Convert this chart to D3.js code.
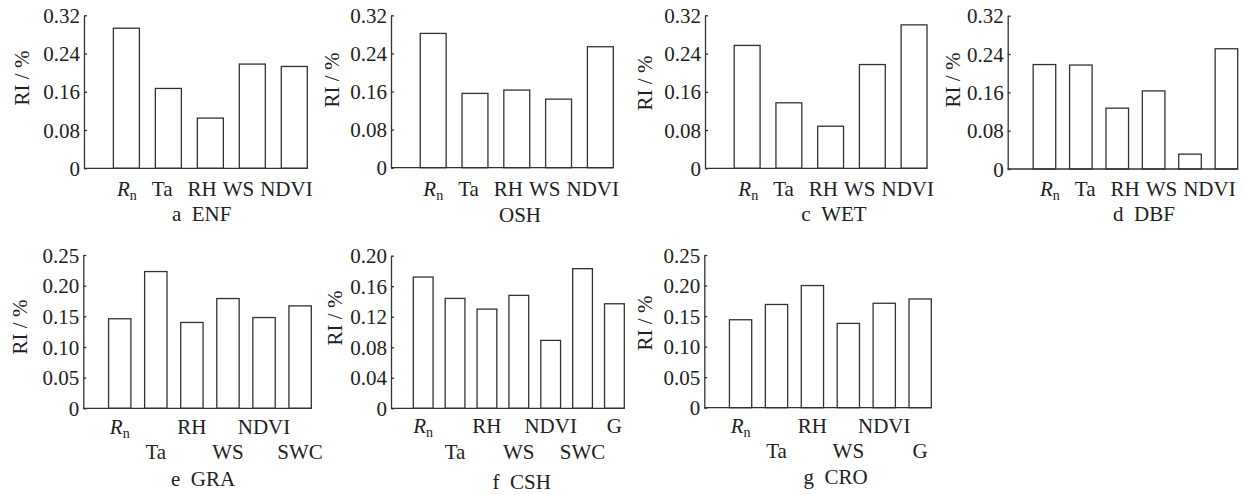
<!DOCTYPE html>
<html>
<head>
<meta charset="utf-8">
<script src="https://cdn.jsdelivr.net/npm/d3@7"></script>
<style>
  body { margin: 0; background: #fff; }
  svg { display: block; }
  text { font-family: "Liberation Serif", "Times New Roman", serif; fill: #222; }
</style>
</head>
<body>
<div class="content"></div>
<script>
// Data (relative importance, RI / %)
var topLabels = ["Rn", "Ta", "RH", "WS", "NDVI"];
var enfValues = [0.293, 0.167, 0.105, 0.218, 0.213];
var oshValues = [0.282, 0.156, 0.163, 0.144, 0.254];
var wetValues = [0.257, 0.137, 0.088, 0.217, 0.300];
// DBF has six bars but only five labels in the original
var dbfValues = [0.218, 0.217, 0.127, 0.163, 0.031, 0.251];

var graCats = ["Rn", "Ta", "RH", "WS", "NDVI", "SWC"];
var graValues = [0.146, 0.223, 0.140, 0.179, 0.148, 0.167];
var cshCats = ["Rn", "Ta", "RH", "WS", "NDVI", "SWC", "G"];
var cshValues = [0.172, 0.144, 0.130, 0.148, 0.089, 0.183, 0.137];
var croCats = ["Rn", "Ta", "RH", "WS", "NDVI", "G"];
var croValues = [0.144, 0.169, 0.200, 0.138, 0.171, 0.178];

var ticks32 = [0, 0.08, 0.16, 0.24, 0.32];
var ticks25 = [0, 0.05, 0.10, 0.15, 0.20, 0.25];
var ticks20 = [0, 0.04, 0.08, 0.12, 0.16, 0.20];

var svgWidth = 1244;
var svgHeight = 494;

var svg = d3.select(".content")
  .append("svg")
  .attr("width", svgWidth)
  .attr("height", svgHeight);

var lineColor = "#333";
var fontSize = 21;

// panel layout
var panels = [
  { values: enfValues, labels: topLabels, ticks: ticks32, ax: 84, w: 223.3, y0: 168.3, y1: 15.3,
    labelX: 117, labelY: 196, title: "a\u2002ENF", titleX: 201.7, titleY: 220.5, ylx: 22, yly: 78 },
  { values: oshValues, labels: topLabels, ticks: ticks32, ax: 391, w: 222.3, y0: 167.7, y1: 15.3,
    labelX: 423.3, labelY: 196, title: "OSH", titleX: 520, titleY: 222, ylx: 332, yly: 80 },
  { values: wetValues, labels: topLabels, ticks: ticks32, ax: 705, w: 222, y0: 168.3, y1: 15.3,
    labelX: 738.3, labelY: 196, title: "c\u2002WET", titleX: 834, titleY: 221, ylx: 645, yly: 83 },
  { values: dbfValues, labels: topLabels, ticks: ticks32, ax: 1007.7, w: 230, y0: 169, y1: 15.7,
    labelX: 1040, labelY: 196, title: "d\u2002DBF", titleX: 1144, titleY: 221, ylx: 952.5, yly: 80 },
  { values: graValues, cats: graCats, ticks: ticks25, ax: 83.3, w: 228, y0: 408.3, y1: 255,
    row1: 434, row2: 459, title: "e\u2002GRA", titleX: 203, titleY: 486, ylx: 20, yly: 327 },
  { values: cshValues, cats: cshCats, ticks: ticks20, ax: 391, w: 233.3, y0: 408.3, y1: 255.7,
    row1: 433, row2: 459, title: "f\u2002CSH", titleX: 521.7, titleY: 489, ylx: 335, yly: 318 },
  { values: croValues, cats: croCats, ticks: ticks25, ax: 704.3, w: 227, y0: 407.7, y1: 255,
    row1: 433, row2: 458, title: "g\u2002CRO", titleX: 835.5, titleY: 484, ylx: 645, yly: 323 }
];

var tickFmt = function(d) { return d === 0 ? "0" : d3.format(".2f")(d); };

// write a label into a <text>; Rn gets italic R with subscript n
// dx = gap before the label, dy = baseline correction left by previous label
function addLabel(textSel, name, dx, dy) {
  if (name === "Rn") {
    textSel.append("tspan").attr("dx", dx).attr("dy", dy)
      .attr("font-style", "italic").text("R");
    textSel.append("tspan").attr("font-size", 14).attr("dy", 4).text("n");
    return 4;
  }
  textSel.append("tspan").attr("dx", dx).attr("dy", dy).text(name);
  return 0;
}

function drawPanel(p) {
  var g = svg.append("g");
  var yMax = p.ticks[p.ticks.length - 1];

  var yScale = d3.scaleLinear()
    .domain([0, yMax])
    .range([p.y0, p.y1]);

  var xScale = d3.scaleBand()
    .domain(d3.range(p.values.length))
    .range([p.ax, p.ax + p.w])
    .paddingInner(0.38)
    .paddingOuter(0.35)
    .align(1);

  // bars
  g.selectAll("rect")
    .data(p.values)
    .enter()
    .append("rect")
    .attr("x", (d, i) => xScale(i))
    .attr("y", d => yScale(d))
    .attr("width", xScale.bandwidth())
    .attr("height", d => yScale(0) - yScale(d))
    .attr("fill", "#fff")
    .attr("stroke", lineColor)
    .attr("stroke-width", 1.3);

  // baseline
  g.append("line")
    .attr("x1", p.ax)
    .attr("x2", p.ax + p.w)
    .attr("y1", yScale(0))
    .attr("y2", yScale(0))
    .attr("stroke", lineColor)
    .attr("stroke-width", 1.3);

  // y axis, ticks point inward
  var yAxis = g.append("g")
    .attr("transform", `translate(${p.ax}, 0)`)
    .call(d3.axisLeft(yScale)
      .tickValues(p.ticks)
      .tickFormat(tickFmt)
      .tickSizeInner(-3)
      .tickSizeOuter(0)
      .tickPadding(4));
  yAxis.attr("font-family", null).attr("font-size", null);
  yAxis.select(".domain").attr("stroke", lineColor).attr("stroke-width", 1.3);
  yAxis.selectAll(".tick line").attr("stroke", lineColor).attr("stroke-width", 1.3);
  yAxis.selectAll(".tick text")
    .attr("font-size", fontSize)
    .attr("fill", "#222")
    .attr("dy", "0.34em");

  // x labels
  if (p.labels) {
    // top row: labels typed as one line
    var t = g.append("text")
      .attr("x", p.labelX)
      .attr("y", p.labelY)
      .attr("font-size", fontSize);
    var gaps = [0, 15, 15, 6, 6];
    var shift = 0;
    p.labels.forEach(function(name, i) {
      shift = addLabel(t, name, gaps[i], -shift);
    });
  } else {
    // bottom row: staggered under each bar
    p.cats.forEach(function(name, i) {
      var t = g.append("text")
        .attr("x", xScale(i) + xScale.bandwidth() / 2)
        .attr("y", i % 2 === 0 ? p.row1 : p.row2)
        .attr("text-anchor", "middle")
        .attr("font-size", fontSize);
      addLabel(t, name, 0, 0);
    });
  }

  // panel title
  g.append("text")
    .attr("x", p.titleX)
    .attr("y", p.titleY)
    .attr("text-anchor", "middle")
    .attr("font-size", fontSize)
    .text(p.title);

  // y axis title
  g.append("text")
    .attr("transform", `translate(${p.ylx}, ${p.yly}) rotate(-90)`)
    .attr("text-anchor", "middle")
    .attr("dy", "0.35em")
    .attr("font-size", fontSize)
    .text("RI / %");
}

panels.forEach(drawPanel);
</script>
</body>
</html>
